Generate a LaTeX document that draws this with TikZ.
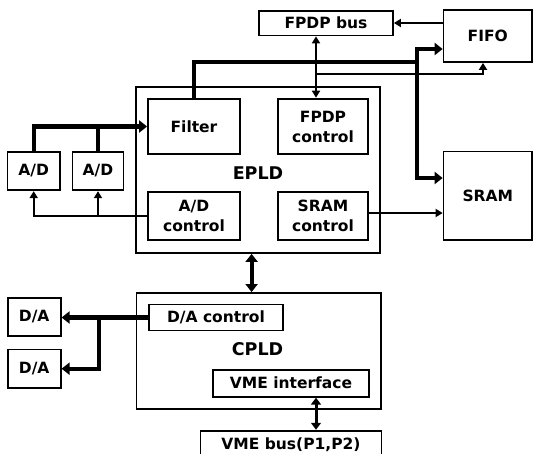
\documentclass[tikz,border=0pt]{standalone}
\usepackage{fontspec}
\setmainfont{DejaVu Sans}
\usetikzlibrary{arrows.meta}
\begin{document}
\begin{tikzpicture}[x=1pt,y=-1pt,
  box/.style={draw=black,line width=1.8pt,fill=white,inner sep=0pt,align=center,
    font=\bfseries\fontsize{15.5}{20}\selectfont},
  thinline/.style={line width=1.8pt,-{Triangle[length=7pt,width=8pt]}},
  thinboth/.style={line width=1.8pt,{Triangle[length=7pt,width=8pt]}-{Triangle[length=7pt,width=8pt]}},
  thickline/.style={line width=4.2pt,-{Triangle[length=8pt,width=12pt]}},
  thickboth/.style={line width=4.2pt,{Triangle[length=8pt,width=12pt]}-{Triangle[length=8pt,width=12pt]}},
  medboth/.style={line width=3pt,{Triangle[length=7pt,width=10pt]}-{Triangle[length=7pt,width=10pt]}},
  biglabel/.style={font=\bfseries\fontsize{17.5}{20}\selectfont,inner sep=0pt}]
\useasboundingbox (0,0) rectangle (533,453);
% big containers
\node[box,minimum width=244pt,minimum height=166pt] (epld) at (258,170) {};
\node[box,minimum width=244.5pt,minimum height=115.7pt] (cpld) at (258.7,350.8) {};
\node[biglabel] (epldlbl) at (258,173) {EPLD};
\node[biglabel] (cpldlbl) at (257.5,349) {CPLD};
% outside boxes
\node[box,minimum width=134pt,minimum height=24.5pt] (fpdpbus) at (326,23.2) {FPDP bus};
\node[box,minimum width=88.5pt,minimum height=52pt] (fifo) at (487.8,36) {FIFO};
\node[box,minimum width=88.5pt,minimum height=88.5pt] (sram) at (487.8,195.7) {SRAM};
\node[box,minimum width=52.5pt,minimum height=38.5pt] (ad1) at (33.7,171) {A/D};
\node[box,minimum width=51pt,minimum height=38.5pt] (ad2) at (98,171) {A/D};
\node[box,minimum width=53pt,minimum height=38pt] (da1) at (34.2,317) {D/A};
\node[box,minimum width=53pt,minimum height=38.5pt] (da2) at (34.2,368.7) {D/A};
\node[box,minimum width=181pt,minimum height=27.3pt] (vmebus) at (291,444.3) {VME bus(P1,P2)};
% inner boxes
\node[box,minimum width=92pt,minimum height=55pt] (filter) at (194,126.5) {Filter};
\node[box,line width=2.6pt,minimum width=90pt,minimum height=55pt] (fpdpctl) at (323,126.5) {FPDP\\control};
\node[box,minimum width=92pt,minimum height=48.5pt] (adctl) at (194,216) {A/D\\control};
\node[box,minimum width=90pt,minimum height=48.5pt] (sramctl) at (323,216) {SRAM\\control};
\node[box,minimum width=134.4pt,minimum height=26pt] (dactl) at (216,317.5) {D/A control};
\node[box,minimum width=156pt,minimum height=27.2pt] (vmeif) at (291,383.2) {VME interface};
% helper coordinates
\coordinate (fx) at (316,0);
\coordinate (tap) at (316,74);
\coordinate (jn) at (417,62);
\coordinate (dx) at (251.6,0);
\coordinate (vx) at (316,0);
\coordinate (br) at (98.6,317.5);
% A/D -> Filter
\draw[thickline] (ad1.north) |- (filter.west);
\draw[line width=4.2pt] (ad2.north) -- (ad2.north |- filter.west);
% A/D control -> A/D
\draw[thinline] (adctl.west) -| (ad1.south);
\draw[thinline] (ad2.south |- adctl.west) -- (ad2.south);
% Filter -> FIFO / SRAM
\draw[line width=4.2pt] (filter.north) |- (jn);
\draw[thickline] (jn) |- ([yshift=-13pt]fifo.west);
\draw[thickline] (jn) |- ([yshift=17.7pt]sram.west);
% FPDP bus <-> FPDP control
\draw[thinboth] (fpdpbus.south -| fx) -- (fpdpctl.north -| fx);
% to FIFO bottom
\draw[thinline] (tap) -| ([xshift=-4.8pt]fifo.south);
% FIFO -> FPDP bus
\draw[thinline] ([yshift=13pt]fifo.west) -- ([yshift=13pt]fifo.west -| fpdpbus.east);
% SRAM control -> SRAM
\draw[thinline] ([yshift=3pt]sramctl.east) -- ([yshift=3pt]sramctl.east -| sram.west);
% EPLD <-> CPLD
\draw[thickboth] (epld.south -| dx) -- (cpld.north -| dx);
% VME interface <-> VME bus
\draw[medboth] (vmeif.south -| vx) -- (vmebus.north -| vx);
% D/A control -> D/A
\draw[thickline] (dactl.west) -- (dactl.west -| da1.east);
\draw[thickline] (br) |- (da2.east);
\end{tikzpicture}
\end{document}
